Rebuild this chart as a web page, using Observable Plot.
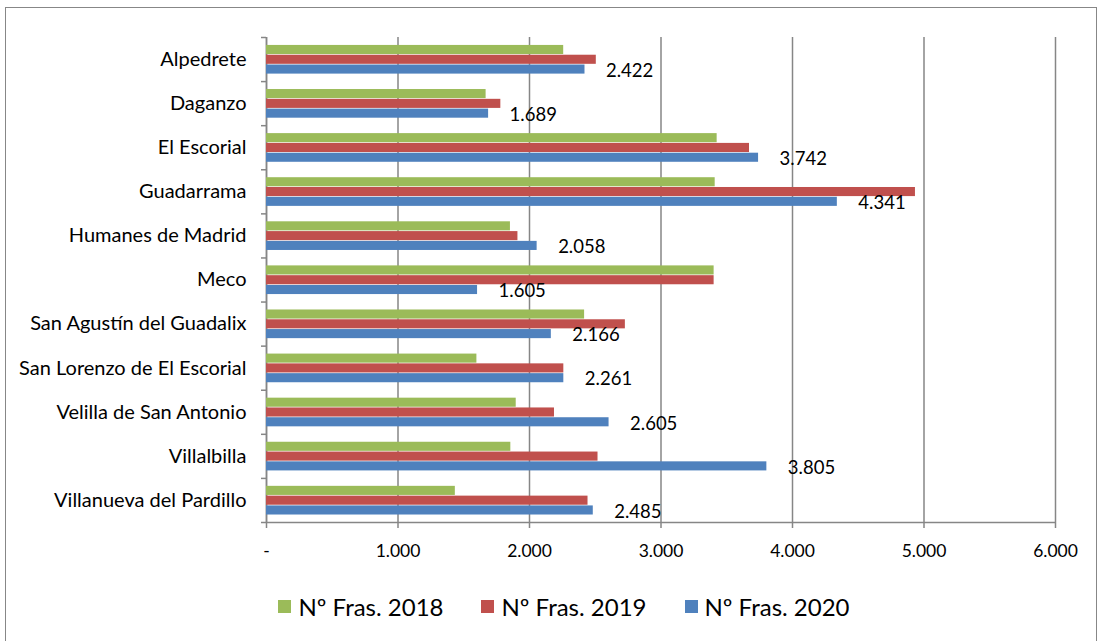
<!DOCTYPE html>
<html><head><meta charset="utf-8">
<script src="https://cdn.jsdelivr.net/npm/d3@7"></script>
<script src="https://cdn.jsdelivr.net/npm/@observablehq/plot@0.6"></script>
<style>
body{margin:0;background:#fff;font-family:Lato,sans-serif;}
#wrap{position:relative;width:1102px;height:641px;overflow:hidden;background:#fff;}
#frame{position:absolute;left:5px;top:7px;width:1092px;height:700px;border:1.5px solid #878787;box-sizing:border-box;}
#chart{position:absolute;left:0;top:0;}
#legend{position:absolute;top:591px;left:0;width:1102px;height:30px;display:flex;justify-content:center;align-items:center;font-family:Lato,sans-serif;font-size:24px;color:#000;padding-left:26px;box-sizing:border-box;}
.item{display:flex;align-items:center;margin:0 19px;}
.sw{width:13px;height:13px;margin-right:7px;}
</style></head>
<body><div id="wrap"><div id="frame"></div><div id="chart"></div><div id="legend"></div></div>
<script>
const categories = ["Alpedrete","Daganzo","El Escorial","Guadarrama","Humanes de Madrid","Meco","San Agustín del Guadalix","San Lorenzo de El Escorial","Velilla de San Antonio","Villalbilla","Villanueva del Pardillo"];
const fras2018 = [2260,1670,3427,3412,1855,3404,2419,1600,1899,1858,1436];
const fras2019 = [2508,1782,3673,4935,1912,3404,2729,2261,2190,2521,2445];
const fras2020 = [2422,1689,3742,4341,2058,1605,2166,2261,2605,3805,2485];
const seriesNames = ["Nº Fras. 2018","Nº Fras. 2019","Nº Fras. 2020"];
const seriesColors = ["#9BBB59","#C0504D","#4F81BD"];
const xTicks = [0,1000,2000,3000,4000,5000,6000];

const es = d3.formatLocale({decimal:",", thousands:".", grouping:[3], currency:["","€"]});
const fmt = es.format(",d");
const allSeries = [fras2018, fras2019, fras2020];
const rows = categories.flatMap((c,i) => allSeries.map((vals,s) => ({cat:c, i, s, series:seriesNames[s], value:vals[i]})));
const rows2020 = rows.filter(d => d.s === 2);

const OFF = 0.18, STEP = 0.222;
const grid = "#868686";

const chart = Plot.plot({
  width:1102, height:575,
  marginLeft:266, marginRight:47, marginTop:37, marginBottom:53,
  style:{fontFamily:"Lato, sans-serif", fontSize:"17px", color:"#000", background:"transparent", overflow:"visible"},
  x:{type:"linear", domain:[0,6000], axis:null},
  y:{type:"linear", domain:[11,0], axis:null},
  color:{domain:seriesNames, range:seriesColors},
  marks:[
    Plot.ruleX(xTicks, {stroke:grid, strokeWidth:1.5}),
    Plot.axisX({ticks:xTicks, label:null, tickSize:6, tickPadding:16, stroke:grid, strokeWidth:1.5, fontSize:17.5, tickFormat:v => v === 0 ? "-" : fmt(v)}),
    Plot.axisY({ticks:d3.range(12), label:null, tickSize:5, stroke:grid, strokeWidth:1.5, tickFormat:() => ""}),
    Plot.axisY({ticks:categories.map((c,i) => i + 0.5), label:null, tickSize:0, tickPadding:20, fontSize:20, tickFormat:v => categories[Math.floor(v)]}),
    Plot.ruleY([11], {stroke:grid, strokeWidth:1.5}),
    Plot.ruleX([0], {stroke:grid, strokeWidth:1.5}),
    Plot.rect(rows, {x1:d => 0, x2:"value", y1:d => d.i + OFF + d.s*STEP, y2:d => d.i + OFF + (d.s+1)*STEP, fill:"series", insetBottom:0.7}),
    Plot.text(rows2020, {x:"value", y:d => d.i + OFF + 2.5*STEP, text:d => fmt(d.value), dx:21, dy:1, textAnchor:"start", fontSize:18.5, fill:"#000"})
  ]
});
document.getElementById("chart").appendChild(chart);

const legend = document.getElementById("legend");
seriesNames.forEach((n,k) => {
  const it = document.createElement("div"); it.className = "item";
  const sw = document.createElement("div"); sw.className = "sw"; sw.style.background = seriesColors[k];
  const tx = document.createElement("span"); tx.textContent = n;
  it.appendChild(sw); it.appendChild(tx); legend.appendChild(it);
});
</script>
</body></html>
